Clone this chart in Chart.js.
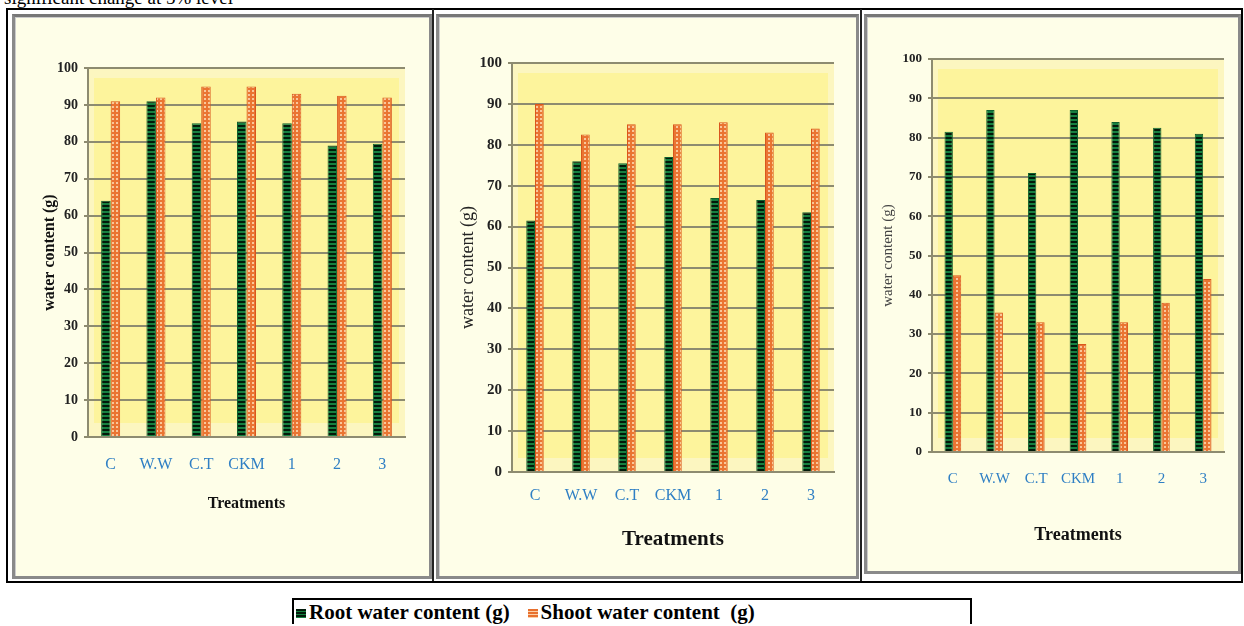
<!DOCTYPE html>
<html>
<head>
<meta charset="utf-8">
<script src="https://cdn.jsdelivr.net/npm/chart.js@4"></script>
<style>
  html, body { margin: 0; padding: 0; background: #fff; }
  body { width: 1244px; height: 626px; position: relative; overflow: hidden; font-family: "Liberation Serif", serif; }
  .toptext { position: absolute; left: 4px; top: -13px; font-size: 19px; color: #000; white-space: nowrap; }
  .outer { position: absolute; left: 6px; top: 8px; width: 1233px; height: 571px; border: 2px solid #000; }
  .vline { position: absolute; top: 9px; width: 2px; height: 572px; background: #222; }
  .panel { position: absolute; box-sizing: border-box; border: 3px solid #8a8a8a; border-top-color: #777; background: #fefee8; box-shadow: inset 1px 1px 0 #ccc; }
  .panel canvas { position: absolute; left: 0; top: 0; }
  .legend { position: absolute; left: 292px; top: 598px; width: 676px; height: 24px; border: 2px solid #000; border-bottom: none; font-weight: bold; font-size: 21px; line-height: 24px; white-space: nowrap; }
  .sw { display: inline-block; width: 10px; height: 9px; margin: 0 3px 0 2px; vertical-align: 1px; }
</style>
</head>
<body>
<div class="toptext">significant change at 5% level</div>
<div class="outer"></div>
<div class="vline" style="left:432px"></div>
<div class="vline" style="left:860px"></div>
<div class="panel" style="left:12px; top:14px; width:420px; height:565px;"><canvas id="c1" width="414" height="559"></canvas></div>
<div class="panel" style="left:436px; top:14px; width:423px; height:565px;"><canvas id="c2" width="417" height="559"></canvas></div>
<div class="panel" style="left:864px; top:14px; width:377px; height:560px;"><canvas id="c3" width="371" height="554"></canvas></div>
<div class="legend"><span class="sw" id="swRoot"></span>Root water content (g)&nbsp;&nbsp;&nbsp;<span class="sw" id="swShoot"></span>Shoot water content&nbsp; (g)</div>
<script>
// ---- data ----
const categories = ["C", "W.W", "C.T", "CKM", "1", "2", "3"];
const seriesNames = ["Root water content (g)", "Shoot water content  (g)"];
const rootPanel1  = [64, 91, 85, 85.5, 85, 79, 79.5];
const shootPanel1 = [91, 92, 95, 95, 93, 92.5, 92];
const rootPanel2  = [61.5, 76, 75.5, 77, 67, 66.5, 63.5];
const shootPanel2 = [90, 82.5, 85, 85, 85.5, 83, 84];
const rootPanel3  = [81.5, 87, 71, 87, 84, 82.5, 81];
const shootPanel3 = [45, 35.5, 33, 27.5, 33, 38, 44];
const yAxisTitle = "water content (g)";
const xAxisTitle = "Treatments";

// ---- patterns ----
function makePattern(kind) {
  const c = document.createElement('canvas');
  c.width = 4; c.height = 4;
  const g = c.getContext('2d');
  if (kind === 'root') {
    g.fillStyle = '#168040'; g.fillRect(0, 0, 4, 4);
    g.fillStyle = '#021a0a'; g.fillRect(0, 0, 4, 2);
  } else {
    g.fillStyle = '#ea7432'; g.fillRect(0, 0, 4, 4);
    g.fillStyle = '#f9c79a'; g.fillRect(1, 1, 2, 2);
  }
  return c;
}
const rootTile = makePattern('root');
const shootTile = makePattern('shoot');
document.getElementById('swRoot').style.background = 'repeating-linear-gradient(#021a0a 0 2px, #168040 2px 3px)';
document.getElementById('swShoot').style.background = 'repeating-linear-gradient(#e8702e 0 2px, #fbd0a8 2px 3px)';

const plotBg = {
  id: 'plotBg',
  beforeDraw(chart) {
    const { ctx, chartArea: a } = chart;
    ctx.save();
    ctx.fillStyle = '#fcf6c0';
    ctx.fillRect(a.left, a.top, a.right - a.left, a.bottom - a.top);
    ctx.fillStyle = '#fdf49c';
    ctx.fillRect(a.left + 6, a.top + 10, a.right - a.left - 12, a.bottom - a.top - 24);
    ctx.restore();
  }
};

function build(id, root, shoot, o) {
  const ctx = document.getElementById(id).getContext('2d');
  const rootPat = ctx.createPattern(rootTile, 'repeat');
  const shootPat = ctx.createPattern(shootTile, 'repeat');
  return new Chart(ctx, {
    type: 'bar',
    data: {
      labels: categories,
      datasets: [
        { label: seriesNames[0], data: root, backgroundColor: rootPat, borderColor: '#10602e', borderWidth: 1,
          categoryPercentage: o.cat, barPercentage: 1 },
        { label: seriesNames[1], data: shoot, backgroundColor: shootPat, borderColor: '#d9561e', borderWidth: 1,
          categoryPercentage: o.cat, barPercentage: 1 }
      ]
    },
    options: {
      responsive: false,
      animation: false,
      layout: { padding: { left: 0, top: o.top, right: o.right, bottom: o.bottom } },
      plugins: { legend: { display: false }, tooltip: { enabled: false } },
      scales: {
        x: {
          grid: { display: false, drawTicks: false },
          border: { display: true, color: '#8d8b70', width: 2 },
          ticks: { color: '#2f7fc4', padding: o.xtPad, font: { family: 'Liberation Serif', size: o.xtSize }, maxRotation: 0 },
          title: { display: true, text: xAxisTitle, color: '#111', padding: { top: 0, bottom: o.xTitlePad },
                   font: { family: 'Liberation Serif', size: o.xTitleSize, weight: 'bold' } },
          afterFit(s) { s.height = o.xH; }
        },
        y: {
          min: 0, max: 100,
          ticks: { stepSize: 10, color: '#222', padding: 6, font: { family: 'Liberation Serif', size: o.ytSize, weight: 'bold' } },
          grid: { color: '#8d8b70', lineWidth: 2, drawTicks: true, tickLength: 4 },
          border: { display: true, color: '#8d8b70', width: 2 },
          title: { display: true, text: yAxisTitle, color: o.yTitleColor, padding: { top: o.yTitlePad, bottom: 0 },
                   font: { family: 'Liberation Serif', size: o.yTitleSize, weight: o.yTitleWeight } },
          afterFit(s) { s.width = o.yW; }
        }
      }
    },
    plugins: [plotBg]
  });
}

build('c1', rootPanel1, shootPanel1, {
  cat: 0.42, top: 51, right: 24, bottom: 59, xH: 80, yW: 73,
  xtPad: 18, xtSize: 16, xTitlePad: 4, xTitleSize: 16,
  ytSize: 14, yTitlePad: 25, yTitleSize: 16, yTitleWeight: 'bold', yTitleColor: '#111'
});
build('c2', rootPanel2, shootPanel2, {
  cat: 0.38, top: 46, right: 22, bottom: 14, xH: 90, yW: 73,
  xtPad: 14, xtSize: 16, xTitlePad: 10, xTitleSize: 21,
  ytSize: 15, yTitlePad: 18, yTitleSize: 18, yTitleWeight: 'normal', yTitleColor: '#222'
});
build('c3', rootPanel3, shootPanel3, {
  cat: 0.4, top: 42, right: 14, bottom: 19, xH: 100, yW: 65,
  xtPad: 18, xtSize: 15, xTitlePad: 6, xTitleSize: 18,
  ytSize: 13, yTitlePad: 12, yTitleSize: 15, yTitleWeight: 'normal', yTitleColor: '#444'
});
</script>
</body>
</html>
